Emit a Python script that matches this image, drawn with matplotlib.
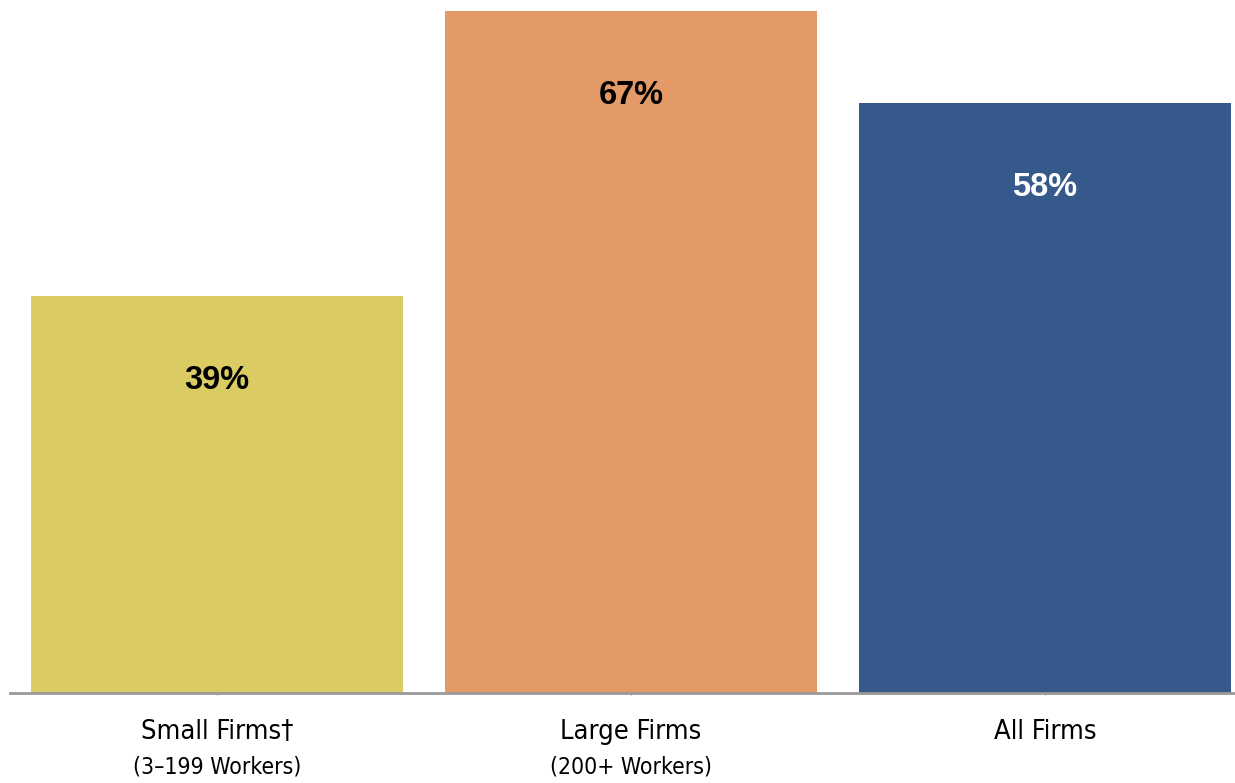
import numpy as np
import matplotlib
matplotlib.use('Agg')
import matplotlib.pyplot as plt
import matplotlib.transforms as mtransforms
from matplotlib import font_manager

categories = ['Small Firms\u2020', 'Large Firms', 'All Firms']
subtitles = ['(3\u2013199 Workers)', '(200+ Workers)', '']
values = [39, 67, 58]
colors = ['#DACC62', '#E39A66', '#36598C']
text_colors = ['black', 'black', 'white']

# find an upright, regular condensed face if there is one
narrow = None
for f in font_manager.fontManager.ttflist:
    if ('Narrow' in f.fname or 'Condensed' in f.fname) and f.style == 'normal' \
            and f.weight in (400, 'normal', 'regular'):
        narrow = font_manager.FontProperties(fname=f.fname)
        break

fig = plt.figure(figsize=(12.35, 7.83), dpi=100)
# axes runs a bit past the right edge, like the original
ax = fig.add_axes([10/1235, 90/783, 1242/1235, 682/783])

x = np.arange(len(values))
bars = ax.bar(x, values, width=0.9, color=colors, zorder=2)

ax.set_xlim(-0.5, 2.5)
ax.set_ylim(0, 67)
ax.set_yticks([])
ax.set_xticks(x)
ax.set_xticklabels([])
ax.tick_params(axis='x', length=3, color='#999999', direction='inout')
for s in ['top', 'right', 'left']:
    ax.spines[s].set_visible(False)
ax.spines['bottom'].set_color('#999999')
ax.spines['bottom'].set_linewidth(2)
ax.spines['bottom'].set_zorder(3)

for xi, v, tc in zip(x, values, text_colors):
    ax.annotate(f'{v}%', (xi, v), xytext=(0, -61), textcoords='offset points',
                ha='center', va='center', fontsize=23.5, fontweight='bold',
                color=tc, family=['Liberation Sans', 'DejaVu Sans'])

trans = mtransforms.blended_transform_factory(ax.transData, fig.transFigure)
for xi, c, s in zip(x, categories, subtitles):
    fp = narrow.copy() if narrow else font_manager.FontProperties(family='Liberation Sans')
    fp.set_size(19.5)
    ax.text(xi, 1 - 732/783, c, transform=trans, ha='center', va='center',
            fontproperties=fp)
    if s:
        fp2 = fp.copy()
        fp2.set_size(16.5)
        ax.text(xi, 1 - 767/783, s, transform=trans, ha='center', va='center',
                fontproperties=fp2)

fig.savefig('out.png', dpi=100)
